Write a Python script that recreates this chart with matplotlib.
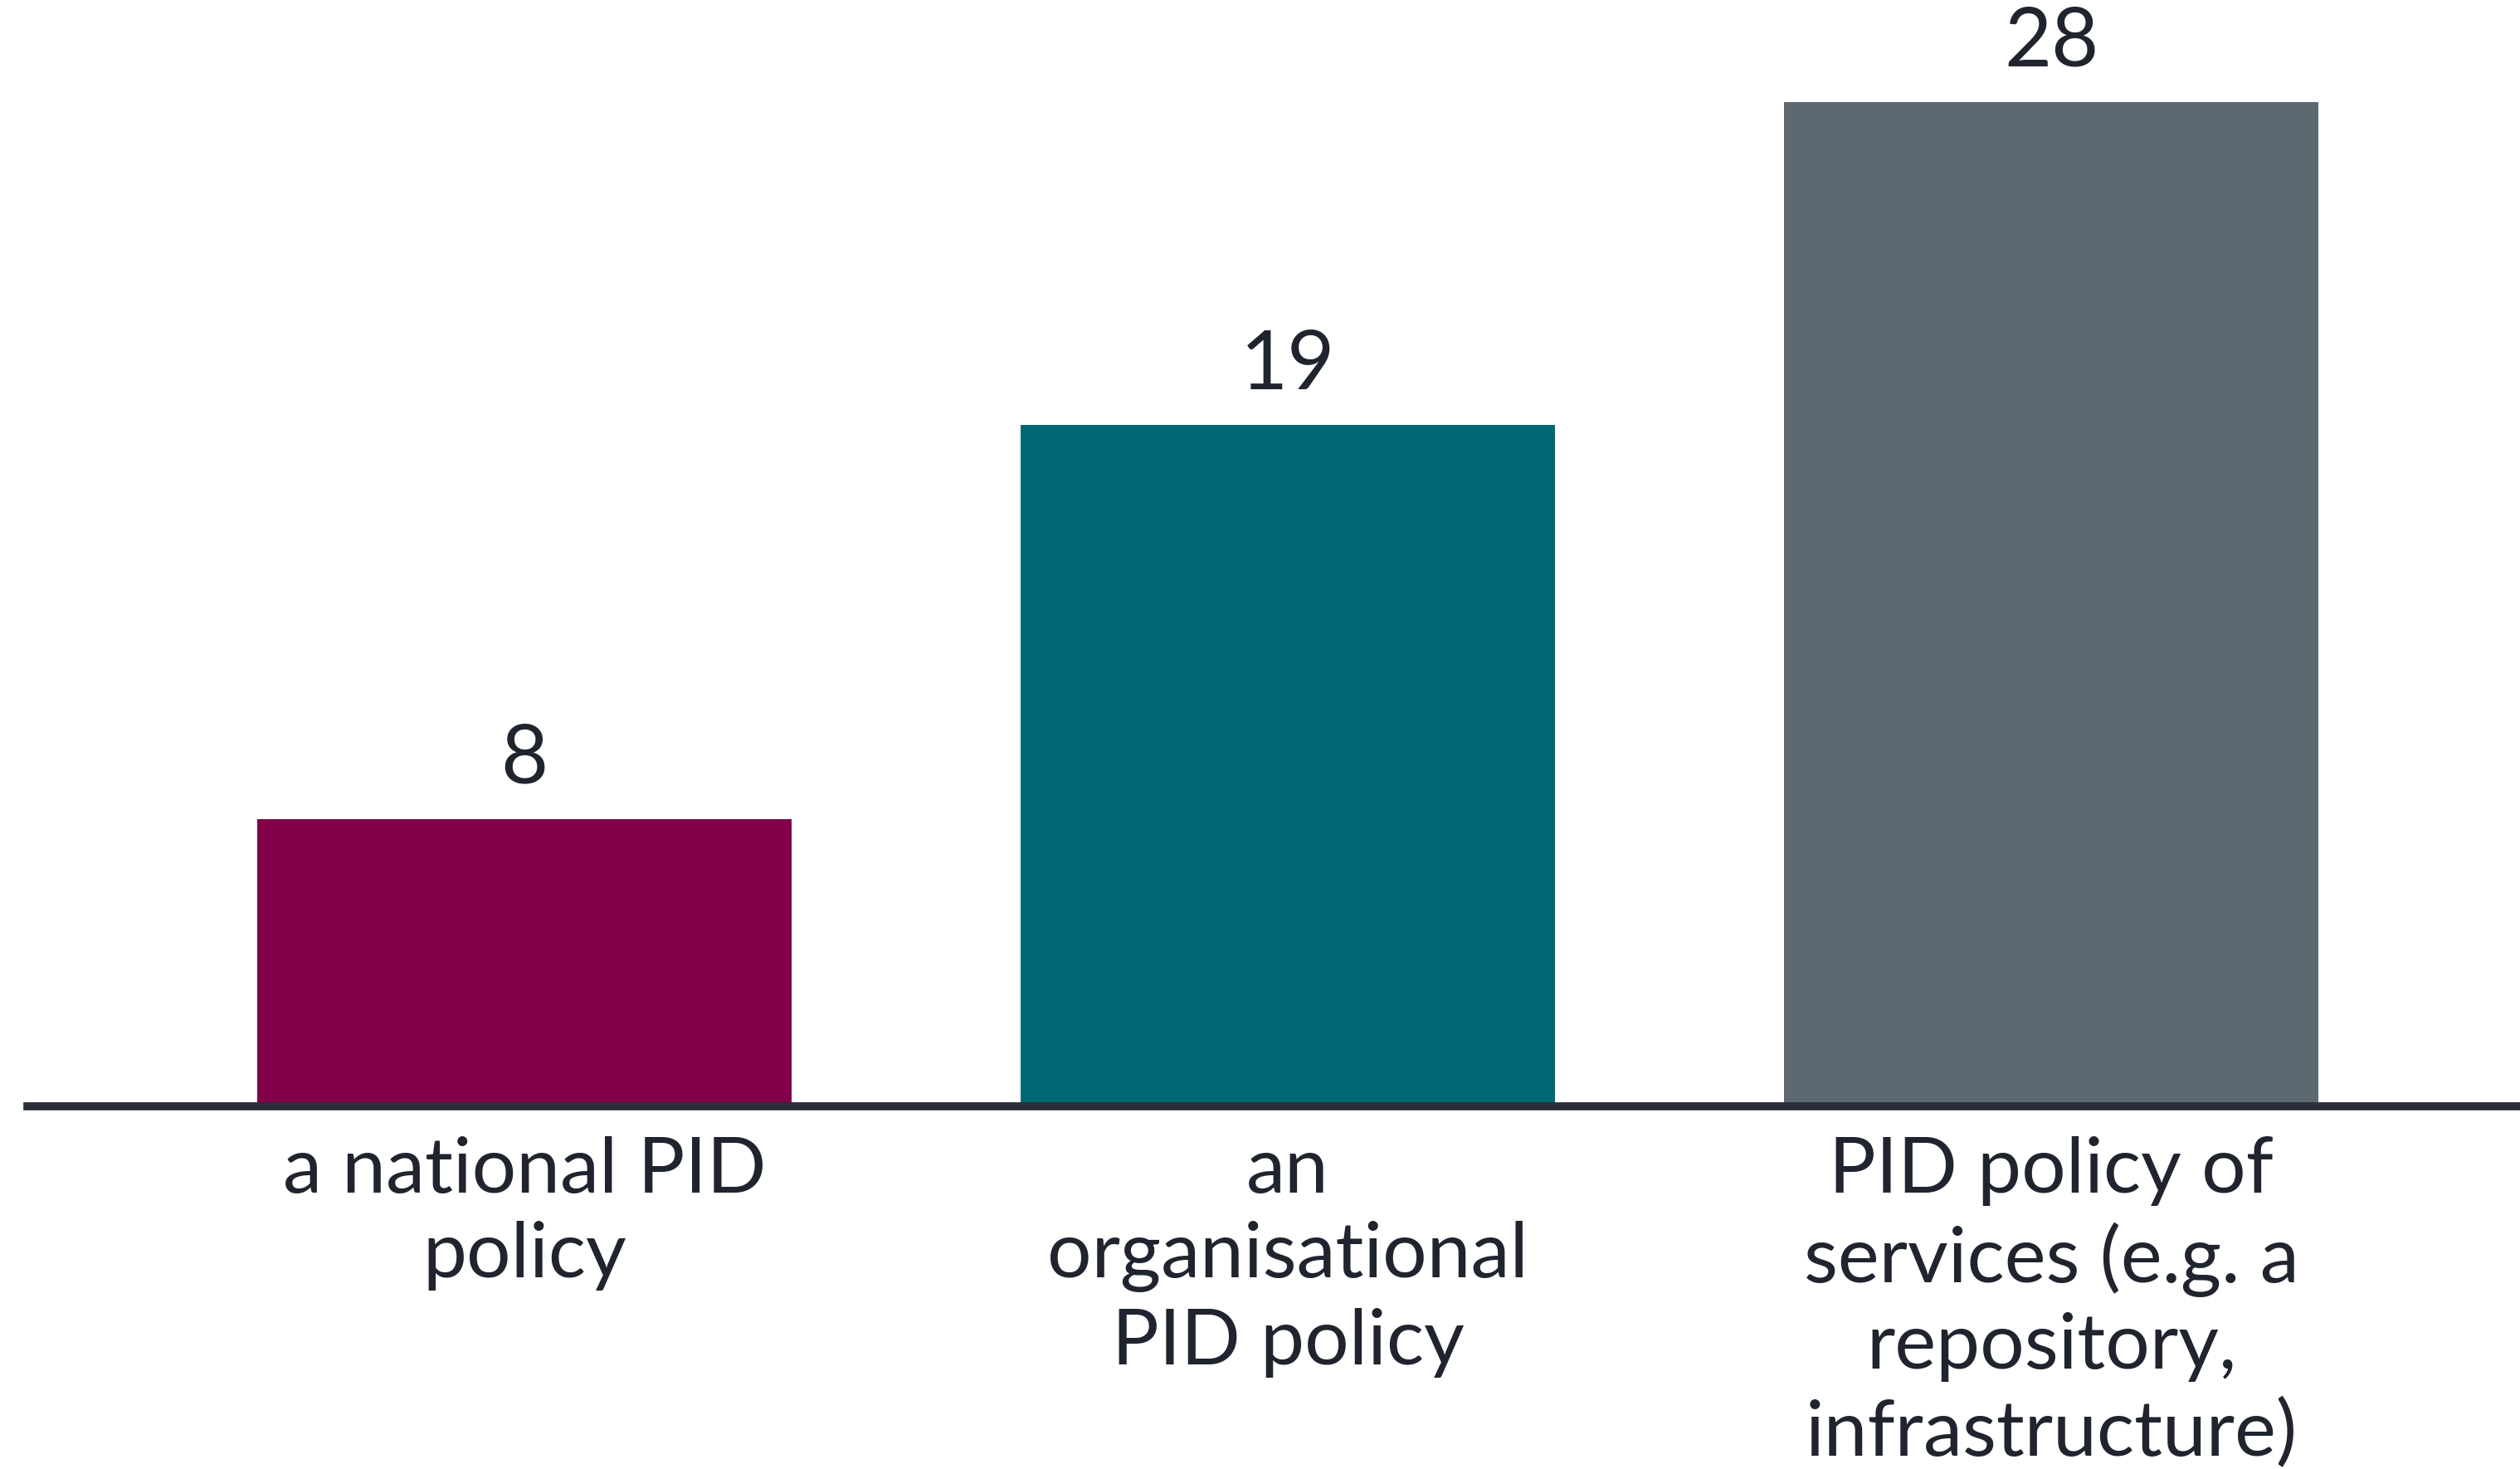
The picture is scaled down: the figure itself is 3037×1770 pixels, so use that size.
import matplotlib.pyplot as plt

categories = ["a national PID\npolicy", "an\norganisational\nPID policy",
              "PID policy of\nservices (e.g. a\nrepository,\ninfrastructure)"]
values = [8, 19, 28]
bar_colors = ["#82004a", "#006775", "#5d6970"]
text_color = "#20242e"

plt.rcParams['font.family'] = ['Lato', 'DejaVu Sans']

fig = plt.figure(figsize=(30.37, 17.70), dpi=100)
ax = fig.add_axes([0.0109, 0.2469, 0.9891, 0.7531])

x = range(len(values))
bars = ax.bar(x, values, width=0.70, color=bar_colors, zorder=2)
ax.bar_label(bars, labels=[str(v) for v in values], padding=19,
             fontsize=71, color=text_color)

ax.set_xlim(-0.651, 2.614)
ax.set_ylim(0, 30.85)

ax.set_xticks(list(x))
ax.set_xticklabels(categories, fontsize=68, color=text_color, linespacing=1.27)
ax.tick_params(axis='x', length=0, pad=26)
ax.set_yticks([])

for s in ['top', 'right', 'left']:
    ax.spines[s].set_visible(False)
ax.spines['bottom'].set_linewidth(7)
ax.spines['bottom'].set_color("#2a2e38")
ax.spines['bottom'].set_zorder(3)

fig.savefig("out.png", dpi=100)
